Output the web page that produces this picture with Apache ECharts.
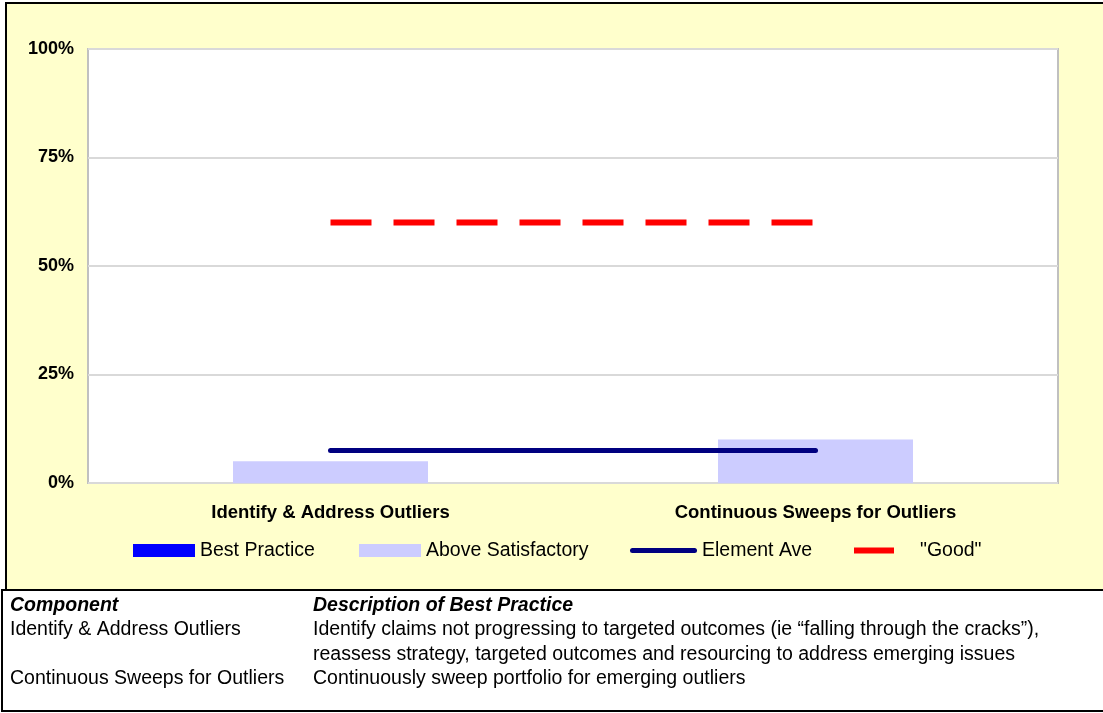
<!DOCTYPE html>
<html>
<head>
<meta charset="utf-8">
<title>Outlier management components</title>
<script src="https://cdn.jsdelivr.net/npm/echarts@6/dist/echarts.min.js"></script>
<style>
  html, body { margin: 0; padding: 0; background: #ffffff; }
  #chart { width: 1103px; height: 713px; }
</style>
</head>
<body>
<div id="chart"></div>
<script>
// Components scored on the chart
const categories = ['Identify & Address Outliers', 'Continuous Sweeps for Outliers'];

// Series values, in percent
const bestPractice = [0, 0];
const aboveSatisfactory = [5, 10];
const elementAve = [7.5, 7.5];
const goodLevel = [60, 60];

// Value axis
const yTicks = [0, 25, 50, 75, 100];

// Description table below the chart
const tableHeader = ['Component', 'Description of Best Practice'];
const tableComponents = ['Identify & Address Outliers', '', 'Continuous Sweeps for Outliers'];
const tableDescriptions = [
  'Identify claims not progressing to targeted outcomes (ie \u201cfalling through the cracks\u201d),',
  'reassess strategy, targeted outcomes and resourcing to address emerging issues',
  'Continuously sweep portfolio for emerging outliers'
];

const FONT = '"Liberation Sans", Arial, Helvetica, sans-serif';
const chart = echarts.init(document.getElementById('chart'), null, { renderer: 'canvas' });

// Table text as graphic elements
const tableGraphics = [];
const colX = [10, 313];
const headerY = 605.5;
const rowStep = 24.4;
tableHeader.forEach((t, i) => {
  tableGraphics.push({
    type: 'text', z: 10,
    style: { text: t, x: colX[i], y: headerY, verticalAlign: 'middle',
      fontFamily: FONT, fontSize: 19.5, fontWeight: 'bold', fontStyle: 'italic', fill: '#000' }
  });
});
tableComponents.forEach((t, r) => {
  if (!t) return;
  tableGraphics.push({
    type: 'text', z: 10,
    style: { text: t, x: colX[0], y: headerY + rowStep * (r + 1), verticalAlign: 'middle',
      fontFamily: FONT, fontSize: 19.5, fill: '#000' }
  });
});
tableDescriptions.forEach((t, r) => {
  tableGraphics.push({
    type: 'text', z: 10,
    style: { text: t, x: colX[1], y: headerY + rowStep * (r + 1), verticalAlign: 'middle',
      fontFamily: FONT, fontSize: 19.5, fill: '#000' }
  });
});

const legendBase = {
  orient: 'horizontal',
  itemGap: 0,
  padding: 0,
  textStyle: { fontFamily: FONT, fontSize: 19.5, color: '#000' }
};
const legendTop = 540.5;

const option = {
  backgroundColor: '#ffffff',
  animation: false,
  graphic: [
    // yellow chart panel with its black frame
    { type: 'rect', z: -100, silent: true,
      shape: { x: 6, y: 3, width: 1110, height: 587 },
      style: { fill: '#FFFFCC', stroke: '#000', lineWidth: 2 } },
    // table panel
    { type: 'rect', z: -100, silent: true,
      shape: { x: 2, y: 590, width: 1120, height: 121 },
      style: { fill: '#FFFFFF', stroke: '#000', lineWidth: 2 } },
    ...tableGraphics
  ],
  grid: {
    left: 88, right: 45, top: 49, height: 434,
    show: true, backgroundColor: '#FFFFFF', borderColor: '#C0C0C0', borderWidth: 2,
    containLabel: false
  },
  legend: [
    Object.assign({}, legendBase, {
      left: 133, top: legendTop, itemWidth: 62, itemHeight: 13,
      data: [{ name: 'Best Practice', icon: 'rect' }]
    }),
    Object.assign({}, legendBase, {
      left: 359, top: legendTop, itemWidth: 62, itemHeight: 13,
      data: [{ name: 'Above Satisfactory', icon: 'rect' }]
    }),
    Object.assign({}, legendBase, {
      left: 630, top: legendTop, itemWidth: 67, itemHeight: 5,
      data: [{ name: 'Element Ave', icon: 'path://M2.5,0H64.5A2.5,2.5,0,0,1,64.5,5H2.5A2.5,2.5,0,0,1,2.5,0Z' }]
    }),
    Object.assign({}, legendBase, {
      left: 854, top: legendTop, itemWidth: 40, itemHeight: 6,
      textStyle: { fontFamily: FONT, fontSize: 19.5, color: '#000', padding: [0, 0, 0, 21] },
      data: [{ name: '"Good"', icon: 'rect' }]
    })
  ],
  xAxis: {
    type: 'category',
    data: categories,
    boundaryGap: true,
    axisLine: { show: false },
    axisTick: { show: false },
    axisLabel: { margin: 20, fontFamily: FONT, fontSize: 18.5, fontWeight: 'bold', color: '#000' },
    splitLine: { show: false }
  },
  yAxis: {
    type: 'value',
    min: yTicks[0], max: yTicks[yTicks.length - 1], interval: yTicks[1] - yTicks[0],
    axisLine: { show: false },
    axisTick: { show: false },
    axisLabel: { margin: 14, formatter: '{value}%', fontFamily: FONT, fontSize: 18, fontWeight: 'bold', color: '#000' },
    splitLine: { show: true, lineStyle: { color: '#D9D9D9', width: 2 } }
  },
  series: [
    { name: 'Best Practice', type: 'bar', stack: 'score', barWidth: 195,
      itemStyle: { color: '#0000FF' }, data: bestPractice },
    { name: 'Above Satisfactory', type: 'bar', stack: 'score', barWidth: 195,
      itemStyle: { color: '#CCCCFF' }, data: aboveSatisfactory },
    { name: 'Element Ave', type: 'line', symbol: 'none', z: 4,
      color: '#000080',
      lineStyle: { color: '#000080', width: 5, cap: 'round' }, data: elementAve },
    { name: '"Good"', type: 'line', symbol: 'none', z: 5,
      color: '#FF0000',
      lineStyle: { color: '#FF0000', width: 6, type: [41, 22], cap: 'butt' }, data: goodLevel }
  ]
};

chart.setOption(option);
</script>
</body>
</html>
